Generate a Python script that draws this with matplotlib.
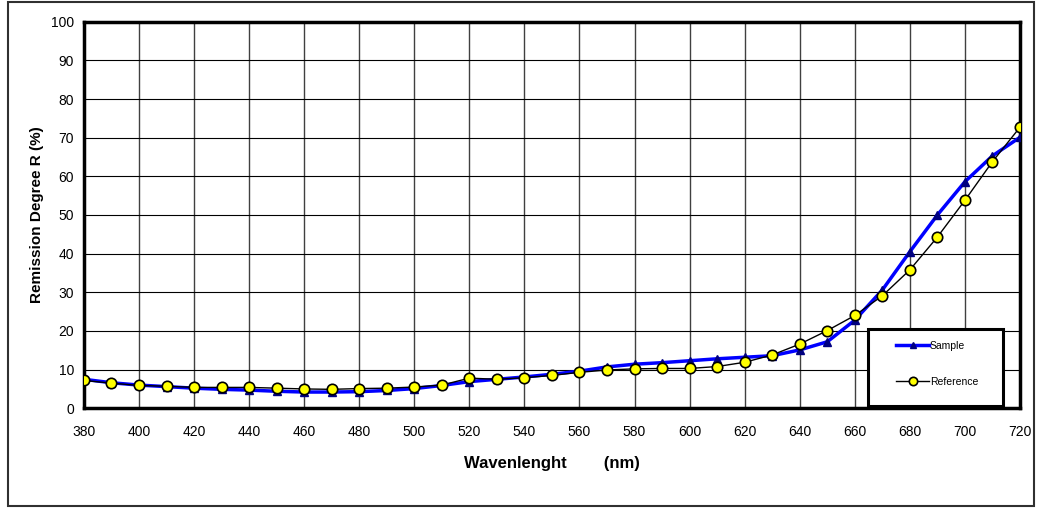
import numpy as np
import matplotlib.pyplot as plt
from matplotlib.patches import Rectangle

plt.rcParams['font.family'] = ['Liberation Sans', 'DejaVu Sans']

# data
wavelength = np.arange(380, 721, 10)
sample = [7.5, 6.6, 6.0, 5.6, 5.2, 4.9, 4.7, 4.4, 4.2, 4.2, 4.3, 4.6, 5.1, 5.9,
          6.9, 7.5, 8.1, 8.8, 9.6, 10.7, 11.4, 11.8, 12.3, 12.8, 13.2, 13.6, 15.1,
          17.2, 22.8, 30.6, 40.5, 50.0, 58.6, 65.3, 70.1]
reference = [7.2, 6.5, 5.9, 5.7, 5.4, 5.4, 5.4, 5.2, 5.0, 4.9, 5.1, 5.2, 5.5, 6.0,
             7.8, 7.5, 7.9, 8.5, 9.3, 9.9, 10.2, 10.3, 10.3, 10.8, 11.9, 13.8, 16.6,
             20.1, 24.0, 29.1, 35.8, 44.3, 53.8, 63.8, 72.7]
xticks = np.arange(380, 721, 20)
yticks = np.arange(0, 101, 10)

W, H = 1039, 508
fig = plt.figure(figsize=(W / 100, H / 100), dpi=100)
ax = fig.add_axes([0.0808, 0.1963, 0.9009, 0.761])

ax.plot(wavelength, sample, color='#0000ff', lw=2.5, marker='^', ms=6,
        mfc='#000080', mec='#000080', label='Sample', zorder=3)
ax.plot(wavelength, reference, color='black', lw=1, marker='o', ms=7.5,
        mfc='#ffff00', mec='black', mew=1.2, label='Reference', zorder=4)

ax.set_xlim(380, 720)
ax.set_ylim(0, 100)
ax.set_xticks(xticks)
ax.set_yticks(yticks)
ax.tick_params(length=0, labelsize=10, pad=7)
ax.tick_params(axis='x', pad=12)
ax.grid(True, color='black', lw=0.8)
ax.grid(True, axis='x', color='#404040', lw=1.0)
for s in ax.spines.values():
    s.set_linewidth(2.5)

ax.set_xlabel('Wavenlenght        (nm)', fontsize=12, fontweight='bold', labelpad=12)
ax.set_ylabel('Remission Degree R (%)', fontsize=11, fontweight='bold', labelpad=5)

# legend box
fig.patches.append(Rectangle((868 / W, 1 - 406 / H), 135 / W, 77 / H,
                             transform=fig.transFigure, facecolor='white',
                             edgecolor='black', lw=2.2, zorder=5))
leg = ax.legend(loc='upper left', bbox_to_anchor=(896 / W, 1 - 341 / H),
                bbox_transform=fig.transFigure, frameon=False,
                fontsize=7.5, handlelength=3.2, labelspacing=2.45,
                borderpad=0, handletextpad=0.05, borderaxespad=0,
                markerscale=0.8)
leg.set_zorder(6)
fig.legends.append(leg)
ax.legend_ = None

# outer frame
fig.patches.append(Rectangle((8 / W, 2 / H), 1026 / W, 504 / H,
                             transform=fig.transFigure, fill=False,
                             edgecolor='#303030', lw=1.5))

fig.savefig('out.png', dpi=100)
